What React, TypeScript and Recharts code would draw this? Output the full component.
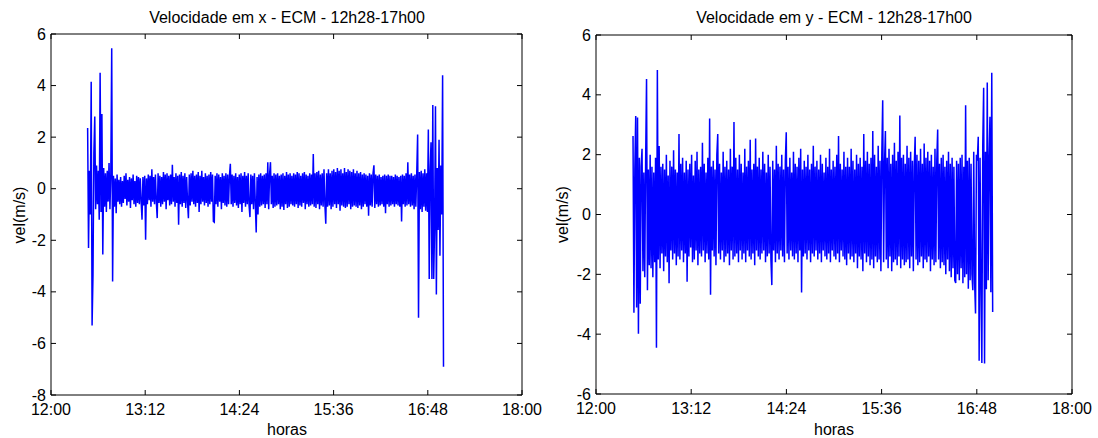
import { LineChart, Line, XAxis, YAxis } from "recharts";

// sampling window 12h28 - 17h00, hours as decimals
const T_START = 12 + 28 / 60;
const T_END = 17;

const xTicks = [12, 13.2, 14.4, 15.6, 16.8, 18];
const xTickLabels = ["12:00", "13:12", "14:24", "15:36", "16:48", "18:00"];
const yTicksX = [-8, -6, -4, -2, 0, 2, 4, 6];
const yTicksY = [-6, -4, -2, 0, 2, 4, 6];

// velocity in x (m/s)
const velX = [
  2.35, -2.3, 0.7, -1.0, 4.15, -5.3, -3.35, 1.4, 2.8, -0.8, 0.9, -0.6, 0.7, -1.2, 4.5, -0.9, 2.9, -2.55, 0.8, -0.7,
  0.6, -0.9, 0.7, -0.5, 1.0, -0.8, 0.6, 5.45, -3.6, 0.5, -0.7, 0.4, -0.95, 0.55, -0.5, 0.35, -0.6, 0.45, -0.7, 0.3,
  -0.55, 0.5, -0.4, 0.6, -0.65, 0.35, -0.5, 0.45, -0.75, 0.4, -0.45, 0.55, -0.6, 0.3, -0.7, 0.5, -0.55, 0.45, -0.6, 0.4,
  -0.5, -1.2, 0.45, -0.65, 0.5, -1.98, 0.4, -0.6, 0.55, -0.45, 0.5, -0.7, 0.75, -0.5, 0.45, -0.6, 0.55, -0.5, -1.14, 0.6,
  -0.55, 0.5, -0.7, 0.45, -0.6, 0.65, -0.5, 0.55, -0.8, 0.6, -0.45, 0.5, -0.65, 0.55, -0.6, 0.93, -0.5, 0.45, -0.7, 0.6,
  -0.55, 0.5, -1.4, 0.55, -0.6, 0.65, -0.7, 0.5, -0.55, 0.6, -0.75, 0.45, -0.5, -1.14, 0.55, -0.65, 0.6, -0.5, 0.7, -0.6,
  0.5, -0.7, 0.55, -0.55, 0.65, -0.9, 0.5, -0.6, 0.7, -0.5, 0.45, -0.65, 0.6, -0.55, 0.5, -0.7, 0.55, -0.6, 0.65, -0.5,
  0.55, -1.27, -1.3, 0.5, -0.6, 0.6, -0.7, 0.55, -0.5, 0.45, -0.8, 0.6, -0.55, 0.5, -0.65, 0.6, -0.7, 0.55, -0.6, 0.5,
  0.97, -0.6, 0.55, -0.7, 0.5, -0.55, 0.6, -0.65, 0.45, -0.75, 0.55, -0.6, 0.6, -0.9, 0.5, -0.55, 0.65, -0.7, 0.5, -0.6,
  0.6, -0.65, -1.1, 0.55, -0.6, 0.5, -0.8, 0.6, -0.55, -1.7, 0.45, -1.0, 0.55, -0.7, 0.6, -0.65, 0.5, -0.6, 0.55, -0.75,
  0.6, -0.6, 1.03, -0.8, 0.55, 1.03, -0.6, 0.5, -0.75, 0.6, -0.7, 0.55, -0.65, 0.6, -0.6, 0.5, -0.8, 0.55, -0.7, 0.6,
  -0.82, 0.5, -0.6, 0.65, -0.75, 0.55, -0.7, 0.6, -0.6, 0.5, -0.65, 0.6, -0.7, 0.55, -0.6, 0.65, -0.75, 0.6, -0.65, 0.5,
  -0.7, 0.6, -0.55, 0.65, -0.8, 0.55, -0.6, 0.5, -0.7, 0.6, -0.65, 0.55, -0.6, 1.35, -0.7, 0.6, -0.75, 0.65, -0.6, 0.7,
  -0.8, 0.55, -0.65, 0.6, -0.7, 0.75, -0.6, -1.36, 0.6, -0.7, 0.75, -0.65, 0.6, -0.8, 0.7, -0.7, 0.75, -0.6, 0.65, -0.75,
  0.8, -0.6, 0.7, -0.85, 0.75, -0.65, 0.6, -0.7, 0.8, -0.75, 0.65, -0.7, 0.75, -0.6, 0.7, -0.8, 0.65, -0.7, 0.75, -0.65,
  0.6, -0.7, 0.7, -0.75, 0.6, -0.65, 0.65, -0.8, 0.55, -0.7, 0.6, -0.6, 0.55, -0.7, 0.5, -1.05, 0.6, -0.65, 0.55, -0.7,
  0.6, 0.91, -0.75, 0.55, -0.6, 0.5, -0.7, 0.55, -0.65, 0.45, -0.6, 0.5, -0.7, 0.55, -0.95, 0.5, -0.6, 0.55, -0.7, 0.5,
  -0.65, 0.5, -0.6, 0.45, -0.7, 0.55, -0.6, 0.5, -0.65, 0.45, -0.7, 0.5, -1.27, 0.55, -0.6, 0.5, -0.7, 0.6, -0.65, 1.03,
  -0.6, 0.55, -0.7, 0.6, -0.65, 0.5, -0.8, 0.55, -0.7, 0.6, 2.1, -5.0, 0.65, -0.8, 0.7, -0.9, 0.6, -0.7, 0.75, -0.85,
  0.6, -0.9, 2.3, -3.5, 0.7, 1.8, -3.5, 3.25, -3.5, -1.5, 3.2, -4.1, 0.8, -1.6, 1.9, -2.6, 0.9, -1.0, 4.4, -6.9,
];

// velocity in y (m/s)
const velY = [
  2.62, -3.28, 1.5, 3.29, -3.11, 3.24, -3.99, 1.9, -2.98, 1.6, 2.2, -1.9, 1.4, -2.1, 1.8, 4.53, -2.53, 1.5, -1.7, 2.0,
  -1.8, 1.6, -2.1, 1.4, -1.6, 1.9, -4.45, 4.83, -1.5, 2.29, -1.8, 1.6, -1.3, 1.7, -1.9, 1.5, -1.4, 2.0, -1.6, 1.3,
  -2.3, 1.8, -1.2, 1.6, -1.5, 2.15, -1.3, 1.5, -1.7, 1.4, -1.4, 2.69, -1.5, 1.7, -1.2, 1.9, -1.6, 1.4, -1.3, 1.8,
  -2.25, 1.5, -1.4, 1.7, -1.1, 2.0, -1.6, 1.3, -1.5, 1.8, -1.2, 2.1, -1.7, 1.5, -1.3, 1.6, -1.4, 2.4, -1.2, 1.7,
  -1.6, 1.4, -1.3, 1.9, -1.5, 3.21, -2.68, 1.6, -1.2, 1.8, -1.4, 1.5, -1.7, 2.0, 2.69, -1.3, 1.7, -1.5, 1.4, -1.2,
  2.1, -1.6, 1.6, -1.4, 1.8, -1.3, 1.5, -1.7, 2.2, -1.2, 1.6, -1.5, 3.09, -1.4, 1.9, -1.3, 1.5, -1.6, 2.0, -1.2,
  1.7, -1.5, 1.4, -1.3, 2.2, -1.6, 1.6, -1.2, 1.8, -1.4, 2.5, -1.5, 1.5, -1.3, 1.7, -1.7, 2.54, -1.2, 1.6, -1.4,
  1.9, -1.5, 1.5, -1.3, 2.1, -1.2, 1.7, -1.6, 1.4, -1.4, 2.0, -1.3, 1.6, -1.5, -2.36, 1.8, -1.2, 1.5, -1.6, 2.3,
  -1.3, 1.7, -1.5, 1.6, -1.2, 2.0, -1.4, 1.5, -1.6, 1.8, 2.75, -1.3, 1.6, -1.5, 1.9, -1.2, 1.4, -1.4, 2.1, -1.5,
  1.7, -1.3, 1.6, -1.6, 1.9, -1.2, 2.2, -2.61, 1.5, -1.4, 1.8, -1.3, 1.6, -1.5, 2.0, -1.2, 1.5, -1.6, 1.7, -1.3,
  2.3, -1.4, 1.6, -1.2, 1.8, -1.5, 1.5, -1.3, 2.0, -1.6, 1.7, -1.2, 1.4, -1.4, 1.9, -1.5, 1.6, -1.3, 2.2, -1.6,
  1.5, -1.2, 1.8, -1.4, 1.6, -1.5, 2.0, -1.3, 2.62, -1.6, 1.7, -1.2, 1.5, -1.4, 2.1, -1.5, 1.6, -1.7, 1.9, -1.3,
  1.6, -1.5, 2.2, -1.4, 1.8, -1.6, 1.5, -1.3, 2.0, -1.8, 1.7, -1.4, 1.9, -1.5, 1.6, -1.9, 2.69, -1.3, 1.8, -1.6,
  2.1, -1.4, 1.7, -1.7, 1.9, -1.5, 2.79, -1.8, 2.0, -1.4, 1.6, -1.6, 2.3, -1.5, 1.8, -1.9, 2.0, 3.82, -1.6, 1.7,
  2.79, -1.5, 1.9, -1.8, 2.2, -1.4, 1.7, -1.9, 2.0, -1.6, 2.4, -1.5, 1.8, -1.7, 2.1, -1.4, 3.31, -1.8, 1.9, -1.5,
  2.0, -1.7, 1.7, -1.6, 2.3, -1.5, 1.9, -1.8, 2.1, -1.4, 1.8, -1.9, 1.6, 2.6, -1.5, 2.0, -1.7, 1.8, -1.6, 2.2,
  -1.4, 1.7, -1.8, 2.37, -1.5, 1.9, -1.6, 2.1, -1.4, 1.8, -1.9, 2.0, -1.5, 1.6, -1.7, 2.2, -1.6, 1.8, 2.84, -1.5,
  1.7, -1.8, 1.9, -1.6, 2.0, -1.7, 1.6, -2.0, 1.8, -1.5, 2.1, -1.9, 1.7, -2.1, 1.9, -1.8, 1.6, -2.2, -2.29, 1.8,
  -2.0, 1.7, -2.2, 1.9, -1.8, 2.0, -2.3, 1.6, -2.1, 3.65, -2.0, 1.8, -2.48, 1.9, -2.2, 1.7, -2.0, -2.53, 2.1, -2.3,
  -3.31, 2.0, 1.8, 2.6, -4.89, 1.9, -2.4, -4.96, 2.3, 4.24, -4.98, 2.1, -2.5, 4.41, -2.2, 1.9, 3.27, -2.6, 4.74, -3.26,
];

const FONT = "'Liberation Sans', Arial, sans-serif";
const BLUE = "#0000ff";
const TICK = 5;

const toRows = (vals: number[]) =>
  vals.map((v, i) => ({
    t: T_START + (i * (T_END - T_START)) / (vals.length - 1),
    v,
  }));

const xLabel = (v: number) => xTickLabels[xTicks.indexOf(v)] ?? "";

const BottomTick = ({ x, y, payload }: any) => (
  <g>
    <line x1={x} y1={y} x2={x} y2={y - TICK} stroke="#000" />
    <text x={x} y={y + 19.5} textAnchor="middle" fontSize={16} fill="#000" fontFamily={FONT}>
      {xLabel(payload.value)}
    </text>
  </g>
);

const TopTick = ({ x, y }: any) => (
  <line x1={x} y1={y} x2={x} y2={y + TICK} stroke="#000" />
);

const LeftTick = ({ x, y, payload }: any) => (
  <g>
    <line x1={x} y1={y} x2={x + TICK} y2={y} stroke="#000" />
    <text x={x - 5} y={y + 5.5} textAnchor="end" fontSize={16} fill="#000" fontFamily={FONT}>
      {payload.value}
    </text>
  </g>
);

const RightTick = ({ x, y }: any) => (
  <line x1={x} y1={y} x2={x - TICK} y2={y} stroke="#000" />
);

function Panel({
  vals,
  yDomain,
  yTicks,
  top,
  right,
  yWidth,
  xHeight,
}: {
  vals: number[];
  yDomain: [number, number];
  yTicks: number[];
  top: number;
  right: number;
  yWidth: number;
  xHeight: number;
}) {
  return (
    <LineChart
      width={549}
      height={438}
      data={toRows(vals)}
      margin={{ top: top - 1, right: right - 1, bottom: 0, left: 0 }}
    >
      <XAxis
        xAxisId="b"
        dataKey="t"
        type="number"
        domain={[12, 18]}
        ticks={xTicks}
        interval={0}
        height={xHeight}
        tickSize={0}
        tickMargin={0}
        tickLine={false}
        axisLine={{ stroke: "#000" }}
        tick={<BottomTick />}
      />
      <XAxis
        xAxisId="t"
        orientation="top"
        dataKey="t"
        type="number"
        domain={[12, 18]}
        ticks={xTicks}
        interval={0}
        height={1}
        tickSize={0}
        tickMargin={0}
        tickLine={false}
        axisLine={{ stroke: "#000" }}
        tick={<TopTick />}
      />
      <YAxis
        yAxisId="l"
        type="number"
        domain={yDomain}
        ticks={yTicks}
        interval={0}
        width={yWidth}
        tickSize={0}
        tickMargin={0}
        tickLine={false}
        axisLine={{ stroke: "#000" }}
        tick={<LeftTick />}
      />
      <YAxis
        yAxisId="r"
        orientation="right"
        type="number"
        domain={yDomain}
        ticks={yTicks}
        interval={0}
        width={1}
        tickSize={0}
        tickMargin={0}
        tickLine={false}
        axisLine={{ stroke: "#000" }}
        tick={<RightTick />}
      />
      <Line
        xAxisId="t"
        yAxisId="r"
        type="linear"
        dataKey="v"
        stroke="none"
        dot={false}
        isAnimationActive={false}
      />
      <Line
        xAxisId="b"
        yAxisId="l"
        type="linear"
        dataKey="v"
        stroke={BLUE}
        strokeWidth={1.5}
        strokeLinejoin="miter"
        dot={false}
        isAnimationActive={false}
      />
    </LineChart>
  );
}

export default function App() {
  return (
    <div
      style={{
        position: "absolute",
        left: 0,
        top: 0,
        width: 1098,
        height: 438,
        background: "#fff",
        fontFamily: FONT,
      }}
    >
      <div style={{ position: "absolute", left: 0, top: 0 }}>
        <Panel vals={velX} yDomain={[-8, 6]} yTicks={yTicksX} top={34} right={27} yWidth={51} xHeight={43} />
      </div>
      <div style={{ position: "absolute", left: 549, top: 0 }}>
        <Panel vals={velY} yDomain={[-6, 6]} yTicks={yTicksY} top={35} right={26} yWidth={47} xHeight={44} />
      </div>
      <svg
        width={1098}
        height={438}
        style={{ position: "absolute", left: 0, top: 0, pointerEvents: "none" }}
        fontFamily={FONT}
        fontSize={16}
        fill="#000"
      >
        <text x={287} y={22.5} textAnchor="middle">Velocidade em x - ECM - 12h28-17h00</text>
        <text x={834} y={22.5} textAnchor="middle">Velocidade em y - ECM - 12h28-17h00</text>
        <text x={287} y={434.5} textAnchor="middle">horas</text>
        <text x={834} y={434.5} textAnchor="middle">horas</text>
        <text x={25} y={215} textAnchor="middle" transform="rotate(-90 25 215)">vel(m/s)</text>
        <text x={568} y={214.5} textAnchor="middle" transform="rotate(-90 568 214.5)">vel(m/s)</text>
      </svg>
    </div>
  );
}
